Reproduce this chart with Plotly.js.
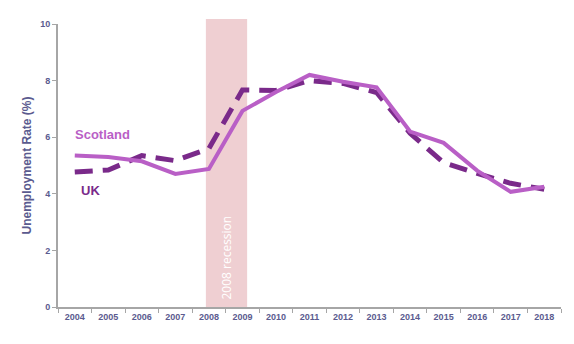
<!DOCTYPE html>
<html><head><meta charset="utf-8">
<script src="https://cdn.plot.ly/plotly-3.0.1.min.js"></script>
<style>html,body{margin:0;padding:0;background:#fff}#c{width:574px;height:344px}</style>
</head><body><div id="c"></div>
<script>
const years = ['2004','2005','2006','2007','2008','2009','2010','2011','2012','2013','2014','2015','2016','2017','2018'];
const scotland = [5.35,5.3,5.15,4.7,4.88,6.93,7.6,8.2,7.96,7.76,6.2,5.8,4.82,4.07,4.25];
const uk = [4.77,4.84,5.35,5.17,5.6,7.67,7.65,8.0,7.9,7.58,6.14,5.1,4.72,4.37,4.16];
const recession = {start: 3.91, end: 5.14, label: '2008 recession'};

const tickColor = '#5b5b8f';
const data = [
  {x: years, y: uk, type: 'scatter', mode: 'lines', name: 'UK',
   line: {color: '#7a2a8a', width: 5, dash: '18px,10px'}},
  {x: years, y: scotland, type: 'scatter', mode: 'lines', name: 'Scotland',
   line: {color: '#b95fc6', width: 4}}
];
const layout = {
  width: 574, height: 344,
  margin: {l: 58, r: 13, t: 24, b: 37},
  showlegend: false,
  paper_bgcolor: '#fff', plot_bgcolor: '#fff',
  font: {family: 'Liberation Sans, Arial, sans-serif'},
  xaxis: {type: 'category', range: [-0.5, years.length - 0.5], tickson: 'boundaries', ticks: 'outside', ticklen: 4,
          tickcolor: '#a6a6a6', showline: true, linecolor: '#a6a6a6', linewidth: 2,
          showgrid: false, zeroline: false,
          tickfont: {size: 9, color: tickColor, weight: 'bold', family: 'Liberation Sans, Arial, sans-serif'}},
  yaxis: {range: [0, 10], tickvals: [0,2,4,6,8,10], ticks: 'outside', ticklen: 4,
          tickcolor: '#a6a6a6', showline: true, linecolor: '#a6a6a6', linewidth: 2,
          showgrid: false, zeroline: false,
          tickfont: {size: 9, color: tickColor, weight: 'bold', family: 'Liberation Sans, Arial, sans-serif'},
          title: {text: '<b>Unemployment Rate (%)</b>', standoff: 6,
                  font: {size: 12, color: tickColor, family: 'Liberation Sans, Arial, sans-serif'}}},
  shapes: [{type: 'rect', xref: 'x', yref: 'paper', x0: recession.start, x1: recession.end,
            y0: 0, y1: 1.018, fillcolor: '#efcfd2', line: {width: 0}, layer: 'below'}],
  annotations: [
    {xref: 'x', yref: 'y', x: (recession.start + recession.end) / 2, y: 1.73,
     text: recession.label, textangle: -90, showarrow: false,
     font: {size: 12, color: '#ffffff', family: 'Open Sans, sans-serif'}},
    {xref: 'paper', yref: 'y', x: 0.03, y: 6.1, xanchor: 'left', text: '<b>Scotland</b>',
     showarrow: false, font: {size: 13, color: '#b95fc6', family: 'Liberation Sans, Arial, sans-serif'}},
    {xref: 'paper', yref: 'y', x: 0.041, y: 4.1, xanchor: 'left', text: '<b>UK</b>',
     showarrow: false, font: {size: 13, color: '#7a2a8a', family: 'Liberation Sans, Arial, sans-serif'}}
  ]
};
Plotly.newPlot('c', data, layout, {displayModeBar: false, staticPlot: true});
</script></body></html>
